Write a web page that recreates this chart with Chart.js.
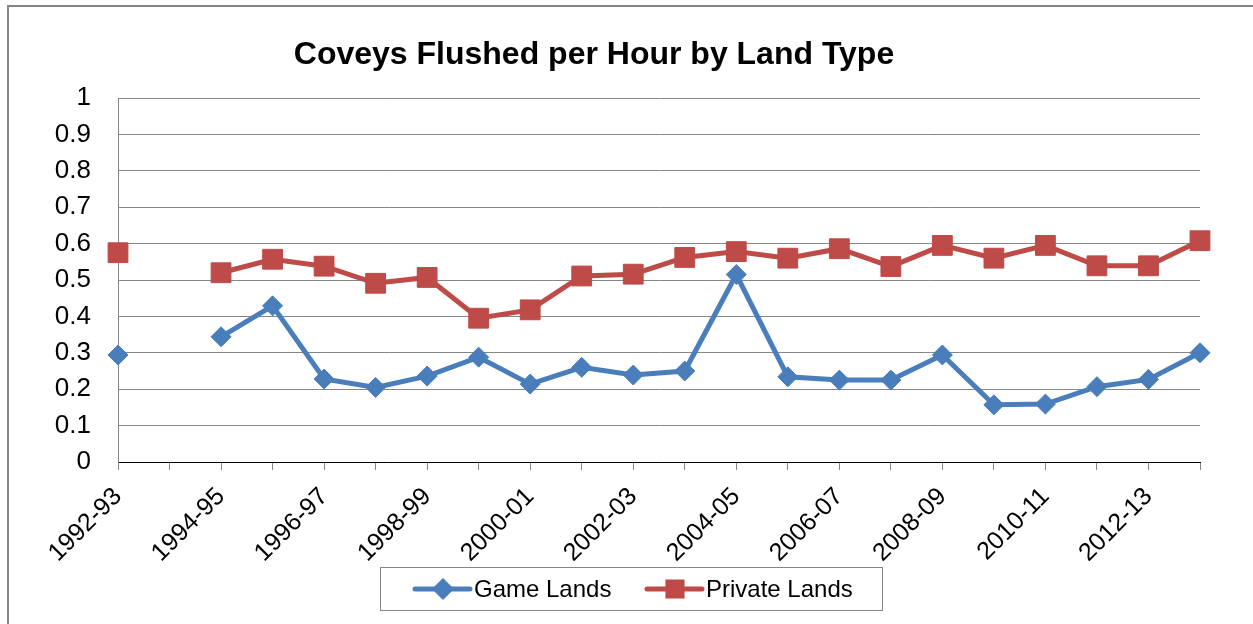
<!DOCTYPE html>
<html lang="en">
<head>
    <meta charset="UTF-8">
    <title>Coveys Flushed per Hour by Land Type</title>
    <script src="https://cdn.jsdelivr.net/npm/chart.js"></script>
    <style>
        body { margin: 0; background: #fff; }
        #chart-container { width: 1253px; height: 624px; }
    </style>
</head>
<body>
    <div id="chart-container">
        <canvas id="coveyChart" width="1253" height="624"></canvas>
    </div>

    <script>
        // Seasons on the x axis (only every other one gets a label)
        const seasons = ['1992-93', '1993-94', '1994-95', '1995-96', '1996-97', '1997-98',
            '1998-99', '1999-00', '2000-01', '2001-02', '2002-03', '2003-04', '2004-05',
            '2005-06', '2006-07', '2007-08', '2008-09', '2009-10', '2010-11', '2011-12',
            '2012-13', '2013-14'];

        // Coveys flushed per hour (no survey in 1993-94)
        const gameLands = [0.294, null, 0.344, 0.429, 0.228, 0.205, 0.236, 0.288, 0.214, 0.260,
            0.239, 0.250, 0.515, 0.234, 0.225, 0.225, 0.294, 0.157, 0.159, 0.207, 0.227, 0.300];
        const privateLands = [0.575, null, 0.520, 0.557, 0.538, 0.491, 0.507, 0.395, 0.418, 0.511,
            0.516, 0.562, 0.578, 0.560, 0.586, 0.537, 0.595, 0.560, 0.595, 0.539, 0.539, 0.608];

        // Y axis ticks
        const yMin = 0;
        const yMax = 1;
        const yStep = 0.1;

        const chartTitle = 'Coveys Flushed per Hour by Land Type';
        const seriesNames = ['Game Lands', 'Private Lands'];

        const blue = '#4A7EBB';
        const red = '#BE4B48';
        const gray = '#868686';
        const fontFamily = "'Liberation Sans', Arial, sans-serif";

        Chart.defaults.font.family = fontFamily;
        Chart.defaults.color = '#000';

        // Frame, title and boxed legend like the spreadsheet original
        const excelLook = {
            id: 'excelLook',
            beforeDraw(chart) {
                const ctx = chart.ctx;
                ctx.save();
                ctx.fillStyle = '#fff';
                ctx.fillRect(0, 0, chart.width, chart.height);
                ctx.strokeStyle = gray;
                ctx.lineWidth = 2;
                ctx.strokeRect(8, 6, chart.width + 20, chart.height + 20);
                ctx.restore();
            },
            afterDraw(chart) {
                const ctx = chart.ctx;
                ctx.save();
                ctx.fillStyle = '#000';
                ctx.font = 'bold 32px ' + fontFamily;
                ctx.textAlign = 'center';
                ctx.textBaseline = 'middle';
                ctx.fillText(chartTitle, 594, 55);

                // legend box
                ctx.strokeStyle = gray;
                ctx.lineWidth = 1;
                ctx.strokeRect(380.5, 567.5, 502, 43);

                const entries = [
                    { x: 415, ds: chart.data.datasets[0], label: seriesNames[0] },
                    { x: 647, ds: chart.data.datasets[1], label: seriesNames[1] }
                ];
                const ly = 589;
                entries.forEach(e => {
                    ctx.strokeStyle = e.ds.borderColor;
                    ctx.lineWidth = 5;
                    ctx.lineCap = 'round';
                    ctx.beginPath();
                    ctx.moveTo(e.x, ly);
                    ctx.lineTo(e.x + 55, ly);
                    ctx.stroke();
                    Chart.helpers.drawPoint(ctx, {
                        pointStyle: e.ds.pointStyle,
                        radius: e.ds.pointStyle === 'rect' ? 10 : 7.5,
                        borderWidth: 1
                    }, e.x + 28, ly);
                    ctx.fillStyle = e.ds.pointBackgroundColor;
                    ctx.fill();
                    ctx.fillStyle = '#000';
                    ctx.font = '24px ' + fontFamily;
                    ctx.textAlign = 'left';
                    ctx.fillText(e.label, e.x + 59, ly + 1);
                });
                ctx.restore();
            }
        };

        const ctx = document.getElementById('coveyChart').getContext('2d');

        new Chart(ctx, {
            type: 'line',
            data: {
                labels: seasons,
                datasets: [{
                    label: seriesNames[0],
                    data: gameLands,
                    borderColor: blue,
                    backgroundColor: blue,
                    pointBackgroundColor: blue,
                    pointBorderColor: blue,
                    pointStyle: 'rectRot',
                    pointRadius: 10,
                    pointBorderWidth: 1,
                    borderWidth: 5,
                    spanGaps: false,
                    tension: 0
                }, {
                    label: seriesNames[1],
                    data: privateLands,
                    borderColor: red,
                    backgroundColor: red,
                    pointBackgroundColor: red,
                    pointBorderColor: red,
                    pointStyle: 'rect',
                    pointRadius: 14,
                    pointBorderWidth: 1,
                    borderWidth: 5,
                    spanGaps: false,
                    tension: 0
                }]
            },
            options: {
                responsive: false,
                animation: false,
                devicePixelRatio: 1,
                layout: {
                    padding: { top: 98, left: 0, right: 53, bottom: 0 }
                },
                plugins: {
                    legend: { display: false },
                    title: { display: false },
                    tooltip: { enabled: false }
                },
                scales: {
                    x: {
                        offset: false,
                        grid: {
                            drawOnChartArea: false,
                            drawTicks: true,
                            tickLength: 8,
                            color: gray
                        },
                        border: { color: '#000', width: 1 },
                        ticks: {
                            autoSkip: false,
                            maxRotation: 45,
                            minRotation: 45,
                            padding: 12,
                            font: { size: 25 },
                            callback: (value, index) => index % 2 === 0 ? seasons[index] : ''
                        },
                        afterFit: scale => { scale.height = 162; }
                    },
                    y: {
                        min: yMin,
                        max: yMax,
                        grid: {
                            color: gray,
                            drawTicks: false
                        },
                        border: { color: gray, width: 1 },
                        ticks: {
                            stepSize: yStep,
                            padding: 27,
                            font: { size: 26 },
                            callback: value => Number(value.toFixed(1)).toString()
                        },
                        afterFit: scale => { scale.width = 118; }
                    }
                }
            },
            plugins: [excelLook]
        });
    </script>
</body>
</html>
